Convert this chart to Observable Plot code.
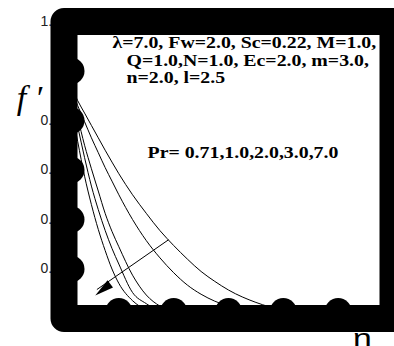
<!DOCTYPE html>
<html><head><meta charset="utf-8">
<script src="https://cdn.jsdelivr.net/npm/d3@7"></script>
<script src="https://cdn.jsdelivr.net/npm/@observablehq/plot@0.6"></script>
<style>body{margin:0;background:#fff;}</style>
</head><body><div id="chart"></div>
<script>
// ---- data ----
const eta = [0, 0.125, 0.25, 0.375, 0.5, 0.625, 0.75, 0.875, 1.0, 1.25, 1.5, 1.75, 2.0, 2.25, 2.5, 2.75, 3.0, 3.5, 4.0, 4.5, 5.0, 6.0];
const prValues = [0.71, 1.0, 2.0, 3.0, 7.0];
const fPr071 = [1.00, 0.94, 0.88, 0.83, 0.78, 0.73, 0.68, 0.632, 0.585, 0.50, 0.425, 0.355, 0.295, 0.24, 0.19, 0.15, 0.115, 0.065, 0.033, 0.015, 0.006, 0.0];
const fPr1   = [1.00, 0.93, 0.86, 0.795, 0.73, 0.67, 0.61, 0.555, 0.50, 0.40, 0.315, 0.245, 0.185, 0.135, 0.098, 0.07, 0.05, 0.025, 0.012, 0.006, 0.003, 0.0];
const fPr2   = [1.00, 0.905, 0.81, 0.70, 0.605, 0.515, 0.425, 0.352, 0.29, 0.175, 0.095, 0.05, 0.025, 0.014, 0.008, 0.004, 0.002, 0.001, 0.0, 0.0, 0.0, 0.0];
const fPr3   = [1.00, 0.89, 0.775, 0.65, 0.535, 0.44, 0.356, 0.283, 0.22, 0.105, 0.06, 0.029, 0.014, 0.007, 0.004, 0.002, 0.001, 0.0, 0.0, 0.0, 0.0, 0.0];
const fPr7   = [1.00, 0.86, 0.715, 0.575, 0.46, 0.36, 0.275, 0.20, 0.142, 0.072, 0.035, 0.016, 0.008, 0.004, 0.002, 0.001, 0.0, 0.0, 0.0, 0.0, 0.0, 0.0];
const xTicks = [1, 2, 3, 4, 5];
const yDotTicks = [0.2, 0.4, 0.6, 0.8, 1.0];
const yLabelTicks = [0.2, 0.4, 0.6, 0.8, 1.2];
const paramLines = ["λ=7.0, Fw=2.0, Sc=0.22, M=1.0,", "Q=1.0,N=1.0, Ec=2.0, m=3.0,", "n=2.0, l=2.5"];
const prLabel = "Pr= 0.71,1.0,2.0,3.0,7.0";
const yTitle = "f ′";
const xTitle = "η";

// ---- build table ----
const series = [fPr071, fPr1, fPr2, fPr3, fPr7];
const curves = prValues.flatMap((pr, i) => eta.map((e, j) => ({eta: e, f: series[i][j], pr})));

const annots = [
  {t: paramLines[0], x: 0.885, y: 1.092},
  {t: paramLines[1], x: 1.14, y: 1.022},
  {t: paramLines[2], x: 1.14, y: 0.950},
  {t: prLabel, x: 1.523, y: 0.648}
];
const arrowHead = {draw(ctx) { ctx.moveTo(0, 0); ctx.lineTo(-4.5, 19); ctx.lineTo(4.5, 19); ctx.closePath(); }};

const svg = Plot.plot({
  width: 394, height: 346,
  marginLeft: 63.5, marginRight: 1.5, marginTop: 21, marginBottom: 28,
  x: {domain: [0, 6], axis: null},
  y: {domain: [0, 1.2], axis: null},
  style: {background: "white"},
  marks: [
    Plot.axisY(yLabelTicks, {tickSize: 0, tickPadding: 4, fontSize: 14, fontFamily: "Liberation Sans", fill: "#222", tickFormat: d => d.toFixed(1), label: null}),
    Plot.line(curves, {x: "eta", y: "f", z: "pr", stroke: "black", strokeWidth: 1, curve: "monotone-x"}),
    Plot.link([{x1: 1.906, y1: 0.318, x2: 0.60, y2: 0.117}], {x1: "x1", y1: "y1", x2: "x2", y2: "y2", stroke: "black", strokeWidth: 1}),
    Plot.dot([{x: 0.569, y: 0.093}], {x: "x", y: "y", symbol: arrowHead, fill: "black", stroke: "none", rotate: 232.6, r: 5}),
    Plot.text(annots, {x: "x", y: "y", text: "t", textAnchor: "start", lineAnchor: "bottom", fontFamily: "Liberation Serif", fontWeight: "bold", fontSize: 16, fill: "black"}),
    Plot.text([yTitle], {x: -0.86, y: 0.848, text: d => d, textAnchor: "start", lineAnchor: "bottom", fontFamily: "Liberation Serif", fontStyle: "italic", fontSize: 34, fill: "black"}),
    Plot.text([xTitle], {x: 5.44, y: -0.117, text: d => d, textAnchor: "middle", lineAnchor: "bottom", fontFamily: "Liberation Sans", fontSize: 26, fill: "black"}),
    Plot.frame({stroke: "black", strokeWidth: 27, strokeLinejoin: "round"}),
    Plot.dot(xTicks, {x: d => d, y: 0, r: 13.5, fill: "black", stroke: "none", dy: -7}),
    Plot.dot(yDotTicks, {x: 0, y: d => d, r: 13.5, fill: "black", stroke: "none", dx: 7})
  ]
});
document.getElementById("chart").append(svg);
// the figure is stretched horizontally: widen these texts about their anchor
const stretchOf = new Map([...paramLines, prLabel].map(s => [s, 1.24]));
stretchOf.set(xTitle, 1.3);
svg.querySelectorAll("text").forEach(t => {
  const k = stretchOf.get(t.textContent);
  if (!k) return;
  let tr = t.getAttribute("transform");
  if (!tr) {
    const x = +t.getAttribute("x") || 0, y = +t.getAttribute("y") || 0;
    t.removeAttribute("x"); t.removeAttribute("y");
    tr = `translate(${x},${y})`;
  }
  t.setAttribute("transform", tr + ` scale(${k},1)`);
});
</script>
</body></html>
